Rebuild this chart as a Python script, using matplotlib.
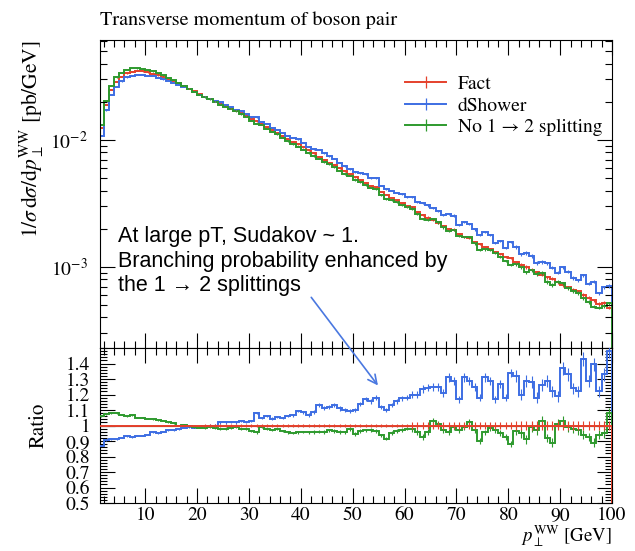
import numpy as np
import matplotlib
matplotlib.use("Agg")
import matplotlib.pyplot as plt
from matplotlib.ticker import MultipleLocator, LogLocator, FixedLocator, FuncFormatter, NullFormatter
from matplotlib.lines import Line2D

# 1 GeV bins in pT of the WW pair
pt_edges = np.arange(1, 101)

# Normalised spectrum of the "Fact" sample, in units of 1e-3 pb/GeV
fact_spectrum = np.array([
    12.4, 18.9, 24.8, 28.8, 31.5, 33.5, 34.5, 34.9, 34.7, 34.1,
    33.3, 32.3, 31.3, 30.2, 29.1, 28.0, 26.7, 25.4, 24.2, 23.0,
    22.0, 21.1, 20.2, 19.4, 18.6, 17.8, 17.0, 16.3, 15.5, 14.7,
    14.0, 13.3, 12.6, 12.0, 11.4, 10.8, 10.2, 9.73, 9.23, 8.75,
    8.28, 7.83, 7.41, 7.02, 6.64, 6.31, 5.97, 5.66, 5.37, 5.09,
    4.83, 4.58, 4.35, 4.25, 3.91, 3.72, 3.52, 3.34, 3.17, 3.01,
    2.95, 2.72, 2.58, 2.45, 2.33, 2.22, 2.11, 2.00, 1.97, 1.82,
    1.73, 1.70, 1.58, 1.51, 1.44, 1.38, 1.32, 1.26, 1.20, 1.18,
    1.09, 1.045, 0.998, 0.953, 0.91, 0.869, 0.83, 0.81, 0.757, 0.723,
    0.69, 0.659, 0.645, 0.601, 0.574, 0.548, 0.51, 0.52, 0.478,
]) * 1e-3

# dShower / Fact, bin by bin
dshower_ratio = np.array([
    0.87, 0.905, 0.91, 0.91, 0.92, 0.93, 0.925, 0.935, 0.935, 0.94,
    0.955, 0.95, 0.96, 0.97, 0.97, 0.975, 0.985, 0.99, 0.985, 0.99,
    0.995, 1.0, 1.0, 1.02, 1.02, 1.025, 1.02, 1.03, 1.025, 1.03,
    1.08, 1.05, 1.06, 1.045, 1.055, 1.05, 1.06, 1.065, 1.095, 1.085,
    1.07, 1.085, 1.13, 1.115, 1.12, 1.13, 1.11, 1.10, 1.095, 1.10,
    1.14, 1.17, 1.155, 1.18, 1.12, 1.10, 1.13, 1.155, 1.175, 1.18,
    1.20, 1.20, 1.235, 1.245, 1.25, 1.25, 1.21, 1.31, 1.29, 1.17,
    1.31, 1.29, 1.25, 1.18, 1.31, 1.29, 1.17, 1.27, 1.18, 1.34,
    1.32, 1.20, 1.29, 1.28, 1.18, 1.26, 1.29, 1.22, 1.19, 1.37,
    1.33, 1.24, 1.22, 1.43, 1.29, 1.395, 1.22, 1.33, 1.48,
])

# "No 1 -> 2 splitting" / Fact, bin by bin
nosplit_ratio = np.array([
    1.06, 1.075, 1.08, 1.08, 1.07, 1.06, 1.065, 1.05, 1.05, 1.045,
    1.04, 1.035, 1.03, 1.02, 1.015, 1.0, 1.005, 0.995, 0.99, 0.985,
    0.985, 0.99, 0.985, 0.98, 0.98, 0.985, 0.99, 0.975, 0.98, 0.965,
    0.955, 0.99, 0.975, 0.97, 0.975, 0.965, 0.955, 0.95, 0.955, 0.96,
    0.955, 0.957, 0.96, 0.958, 0.968, 0.965, 0.958, 0.955, 0.978, 0.946,
    0.965, 0.968, 0.97, 0.965, 0.936, 0.915, 0.95, 0.965, 0.97, 0.98,
    0.978, 0.96, 0.925, 0.96, 1.03, 1.01, 0.97, 0.96, 0.99, 0.97,
    0.99, 1.02, 0.97, 0.90, 0.955, 0.985, 0.97, 0.95, 0.925, 0.88,
    0.965, 0.95, 0.91, 0.99, 0.97, 1.03, 0.92, 0.89, 1.01, 1.03,
    0.99, 0.98, 0.97, 0.94, 0.925, 0.89, 0.94, 0.95, 1.08,
])

# Relative statistical uncertainty per bin
rel_err = np.array([0.004] * 20 + [0.007] * 20 + [0.012] * 20 + [0.02] * 20 + [0.03] * 19)

series_names = ["Fact", "dShower", "No 1 \u2192 2 splitting"]
series_colors = ["#e5412c", "#3d6ee3", "#2e9a2e"]

plt.rcParams["font.family"] = "STIXGeneral"
plt.rcParams["mathtext.fontset"] = "stix"
plt.rcParams["font.size"] = 14

centers = 0.5 * (pt_edges[:-1] + pt_edges[1:])
ratios = [np.ones_like(fact_spectrum), dshower_ratio, nosplit_ratio]
spectra = [fact_spectrum * r for r in ratios]

fig = plt.figure(figsize=(6.35, 5.51), dpi=100)
ax = fig.add_axes([0.1575, 0.3684, 0.8063, 0.559])
axr = fig.add_axes([0.1575, 0.0871, 0.8063, 0.2813], sharex=ax)

# Upper panel: spectra
for spec, col in zip(spectra, series_colors):
    ax.stairs(spec, pt_edges, color=col, lw=1.4)
    ax.errorbar(centers, spec, yerr=spec * rel_err, fmt="none", ecolor=col, elinewidth=0.8)

ax.set_yscale("log")
ax.set_xlim(1.3, 100)
ax.set_ylim(2.3e-4, 6.13e-2)

# Lower panel: ratios to Fact
axr.axhline(1.0, color="black", lw=0.8, zorder=1)
for i, (rat, col) in enumerate(zip(ratios, series_colors)):
    z = 4 if i == 0 else 3
    axr.stairs(rat, pt_edges, color=col, lw=1.4, zorder=z)
    axr.errorbar(centers, rat, yerr=rat * rel_err, fmt="none", ecolor=col, elinewidth=0.8, zorder=z)
axr.set_ylim(0.5, 1.5)

# Ticks
for a in (ax, axr):
    a.xaxis.set_major_locator(MultipleLocator(10))
    a.xaxis.set_minor_locator(MultipleLocator(2))
    a.tick_params(which="both", direction="in", top=True, right=True, labelsize=14)
    a.tick_params(which="major", length=11, width=0.8)
    a.tick_params(which="minor", length=5, width=0.8)
    for s in a.spines.values():
        s.set_linewidth(0.8)

ax.yaxis.set_major_locator(LogLocator(base=10))
ax.yaxis.set_minor_locator(LogLocator(base=10, subs=np.arange(2, 10)))
ax.yaxis.set_minor_formatter(NullFormatter())
ax.tick_params(axis="x", labelbottom=False)
ax.tick_params(axis="y", which="major", pad=9)

axr.yaxis.set_major_locator(FixedLocator(np.round(np.arange(0.5, 1.41, 0.1), 2)))
axr.yaxis.set_minor_locator(MultipleLocator(0.02))
axr.yaxis.set_major_formatter(FuncFormatter(lambda v, p: "%g" % round(v, 2)))
axr.tick_params(axis="y", which="major", pad=7)
axr.tick_params(axis="x", which="major", pad=3)

# Labels
fig.text(0.1575, 0.955, "Transverse momentum of boson pair", ha="left", va="baseline", fontsize=14.5)
ax.set_ylabel(r"$1/\sigma\,\mathrm{d}\sigma/\mathrm{d}p_\perp^{\mathrm{WW}}$ [pb/GeV]", loc="top", fontsize=15.5)
ax.yaxis.set_label_coords(-0.105, 1.0)
axr.set_ylabel("Ratio", fontsize=15)
axr.yaxis.set_label_coords(-0.10, 0.5)
axr.set_xlabel(r"$p_\perp^{\mathrm{WW}}$ [GeV]", loc="right", fontsize=13.5, labelpad=-1)

# Legend
handles = [Line2D([], [], color=c, lw=1.4, marker="|", markersize=9, markeredgewidth=0.9) for c in series_colors]
ax.legend(handles, series_names, loc="upper left", bbox_to_anchor=(0.596, 0.885),
          frameon=False, fontsize=14, handlelength=2.1, handletextpad=0.6,
          labelspacing=0.2, borderpad=0, borderaxespad=0)

# Comment on the high-pT behaviour
ax.text(0.035, 0.395, "At large pT, Sudakov ~ 1.\nBranching probability enhanced by\nthe 1 \u2192 2 splittings",
        transform=ax.transAxes, ha="left", va="top", fontsize=15.5, linespacing=1.22,
        family=["Liberation Sans", "DejaVu Sans"])
axr.annotate("", xy=(55.2, 1.244), xycoords="data", xytext=(41.7, 6.0e-4), textcoords=ax.transData,
             arrowprops=dict(arrowstyle="->", color="#4a78e0", lw=1.2, mutation_scale=16),
             annotation_clip=False)

fig.savefig("out.png", dpi=100)
